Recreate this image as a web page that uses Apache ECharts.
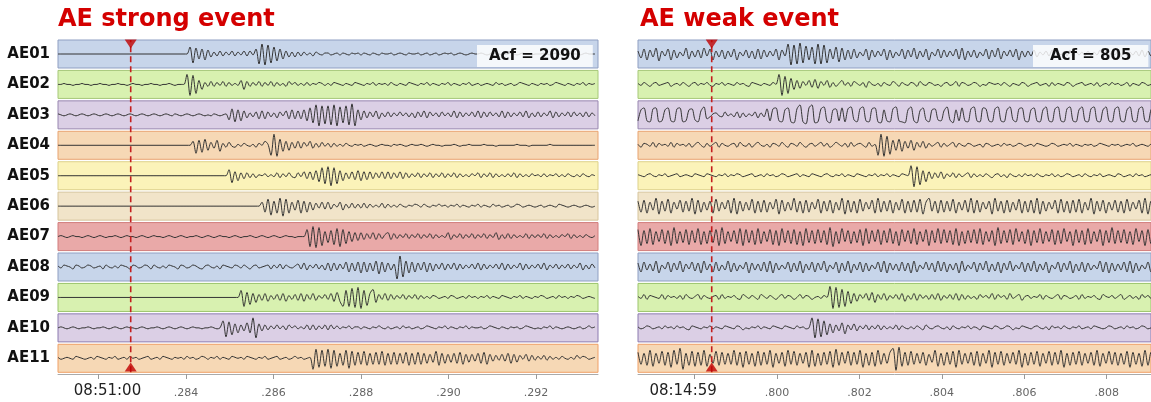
<!DOCTYPE html>
<html><head><meta charset="utf-8">
<script src="https://cdn.jsdelivr.net/npm/echarts@6/dist/echarts.min.js"></script>
<style>html,body{margin:0;padding:0;background:#fff}#c{width:1151px;height:402px}</style>
</head><body><div id="c"></div>
<script>
// ---------------- DATA ----------------
const rowNames = ['AE01','AE02','AE03','AE04','AE05','AE06','AE07','AE08','AE09','AE10','AE11'];
const panelTitles = ['AE strong event', 'AE weak event'];
const acfLabels = ['Acf = 2090', 'Acf = 805'];
// time axes (seconds within the minute)
const leftRange = [0.281074, 0.293417];
const rightRange = [0.796626, 0.809075];
const leftTicks = [0.282, 0.284, 0.286, 0.288, 0.290, 0.292];
const leftTickLabels = ['08:51:00', '.284', '.286', '.288', '.290', '.292'];
const rightTicks = [0.798, 0.800, 0.802, 0.804, 0.806, 0.808];
const rightTickLabels = ['08:14:59', '.800', '.802', '.804', '.806', '.808'];
const leftPick = 0.282736;   // red dashed marker
const rightPick = 0.798415;
// sampling of the read-off traces
const leftT0 = 0.281074, leftDt = 0.00006857;
const rightT0 = 0.796626, rightDt = 0.0000728;
// amplitude levels: 'm' = 0, each letter = 1 unit ('a' = -12, 'y' = +12)
const strongTraces = [
 "mmmmmmmmmm mmmmmmmmmm mmmmmmmmmm mmmmmmmmmm mmmmtdshrg qjokpkolpk olpkplrcwb vdtfrhpjoj okolnkomln nlmnlnmlnm nlnmlnmlnm mnlmnmlnmm nlmnlmnlmn mnlmnmlmnm mnmlmnmmlm mnmlmnmmlm mmnmlmnmlm mnmmlmnmmm",
 "mmnmmlmmnm mlmmnmmlmm nmmlmnmmlm mnmmlmmnml mmmwbvdqho kpkolpkoln lqhpkolpko lpkolnkpmo lnlolnmonl nlonmlnmlo nmlnmolnmn lomlnmlonm lnmolnmlnm olnmlnmolm nlmnmlomnl mnlmonmlnm lnmnlmonml nmlnmolnmn",
 "nmlmnmlmnm lmnmlmnmlm nmlmnmlmnm lmnmlmnmln mlmnmlmnml mlnmlmnhsf rgqjokpiqi pkojplqiri qirgtewbvd vcwbuevcxb rhqjpkqiok pkolplokoj pkqjplokpl okqjpkolpk qjpkplokqj pkolpkqjok pkolqjpkol pkplokpkol",
 "mmmmmmmmmm mmmmmmmmmm mmmmmmmmmm mmmmmmmmmm mmmmmqerfs hpjrgokplk nlomlnkomq ncxbsgqhpj qjplqjokpl okolnlomln mnlmnmlmnm mlnmnmlmnm mnmlmnmmlm mmnmlmmnmm mmnmmmlmmm mmmnmmmlmm mmmmnmmmmm mmmmmmmmmm",
 "mmmmmmmmmm mmmmmmmmmm mmmmmmmmmm mmmmmmmmmm mmmmmmmmmm mmmmmmmsfq hpjpkoknmo lnlpkolplk plqjqirgue vcuerhpjqi rhqiqjpkqj qjpkqjpkol pkolpkolpk olpkolnlom pkolpkolnl olpkolnlom nlolnmolnl omlnlomlnm",
 "mmmmmmmmmm mmmmmmmmmm mmmmmmmmmm mmmmmmmmmm mmmmmmmmmm mmmmmmmmmm mmmmmmmmqg tdrfuctfqi sfrgqipkqj qjolqiokpk okpkolnlpk olnlomlnmo nlomlnmomn lnmolnmlnm olnmlomnlm nlmonlmnml mnlmnmlonm lmnmlmnmlm",
 "mnmlmnmmlm nmlmnmlmmn mlmnmmlmnm lmnmmlmnml mnmlmmnmlm nmlmnmmlmn mlmmnmlmnm lmnmlmnmml mmmtcwbvdr gseuctfrhq iqjpkqjpko qjpkolpkol pkolpkolnl qjolpkolpk olpkolqjok pkolnlpkol olpkolnlom pkolnlomln",
 "nlonmkonlm onlmnkomln lonmkonlmo nkomlnlonm konlmonlkn omlnkonmlo nlomknolmn okolpkomln pkqjolpkoj qiqjpkrhqi rgrhqisfrh qjpaxcsgrh qjrhqipkqj pkqjpkolpk qjpkolpkqj pkolqjpkol pkqjolpkol pkolqjokpl",
 "mmmmmmmmmm mmmmmmmmmm mmmmmmmmmm mmmmmmmmmm mmmmmmmmmm mmmmmmmmmm mtdrfqhpjq iokpjqiokp jqipkqjolp kqiridtdvc wbtequhpkq jpkolpkolp kolnlonlmn lonlmnlomn lnmolnmlon mlnmolnmln monlmnlomn lnmonlmnml",
 "mnmlmnmlmm nmlmmnmlmn mlmnmmlmnm lmmnmlmnml mnmlmnmmlm mnmlmtdsfq hpjrhwcqjp kolplokpmo lnlpkpkolp kplolnmoln nlnmlnmoml nlmnlomnlm nlmonmlnmo lnmlnmolnm mnlmonmlnm lnmnlmonml mlnmolnmlm nmlmnlmomn",
 "nlmnmlonml mnlonmlnmo lmnlomnlmn olmnlonmln mnlomnlmon lnmolnmlon mnlonmlnmo lmnolmnlmo mnlmnbvdue vcuerfuctf sgtfrgsgtf rgsgrhsfrg sgrhqitfrh qirhsgqiqj rhsgqjpkqj rhqiplqjpk olpkolnlom lnlpmonlmn"
];
const weakTraces = [
 "pirgqjsfpk rgqiokshpj qiskrgpjqh pjrgokqiph rhqjpkrgqk wbvcxdugtc wcvdrhtesg qhriokrgqj pkrgqiokrh qjshpjrgok riqjpkrhsg pjqiokrhqj shpkqjrgpj pkqjolpkqj olpkqjplok pkolqjpkol qjpkolpkqj pkol",
 "nlomknolmn okmnlomkno lnmolknmol nmlomnlkon mlnmlomwbu dshqiplqjr iplqjoknql okpnlojpml nkomlpnkom lonkpmlonl mknolmpkon lmonkmlonm nlomknmlon kmnolmnkol nmlonkmnol mnlokmnlom nlmoknmlon lmno",
 "grtgfstfgr tgfstfgrsh fquiknolkp lnkpjoknlp joksgstgfr tfeswfdtwe fsugersgtf suhfsugfst fergfsugfe rugeqthfrs hgquhergtg fsugftsgfs ugfruhfstg frtgfrugfs ugfsugfrug fsugfrugfs ugfrugfsug frug",
 "nkonlpkomn lpkomnlokn pmkolnpkom lnokpmlokn pmlnkonlpm konlpmknol nplokmpnlo kplnomkpln cxbvdrhsgq jrhpkqjoln pkolnpkoml onlmnkonlm nlomnlmonl mnlonmlmon lmnmolnmln mnlmonmlnm nlmnmolmnm lnmo",
 "nmlnomlnmo lmnolmnmlo nmlonmlnmo lnmonlmnol mnlomnlmon lmnolnmlon mlnomlnmol nmlonmlnmo lnmolnmlon mwbvdrgqjp kqjolpkoln pkolnlomkn olnkomlnlo mnlomlnmol nlmonlmnlo mlnmolmnml onlmnlomnl mnlo",
 "rgsfqiuerh tfqjsgrhue sgqirfthqj sfuerhqitf rgsgqjtesh qiugrfsgqj tfrhsfqiue sgrfthqjsf ugrhsfqitf rgsgtequhr fsgrhtfqis gufsgqjreu hrfsgqitfr gsfuerhqjs ftgrfsgtfq iuerhsfqis grfthqjsfu erhs",
 "tdsfuerhtf sdvfrgtesg uerfsgtdvf rhsfudtgse ufrhtesdug sfterdugsf tgsevcrfuh sfrgtdufsh tesgufrdth sfuerhtdsg uftgseudrf sgtfuerhsd vfsgteuhrf tdsgufrhte sfuhrdtgse ufrhtdsgvf sgtfreuhsd tfsg",
 "qhrjpisgok rhqjshpkri qgsjphrioj shqiokrgqj pirhsgqjok rhqisgpjrh qjshokrgqi sgpjrhqiok rhsgqjpiri qgshokrjqh sirhpjqgsi okrhqjshpi rgqjsiokrh qishpjrgok rhqjsgpirh qjokshrgqi pjrhsgqiok rhqj",
 "nlpkonmlpk omnlokpmln pkomlnokpl nmolkpnlom kpnlomknpl onkmplonkm nlomxbwcud sgqiplqjrh pkqjolpkqi okqjplokpk qjolpkqjpk olnkpmolqk pmokqlnpjn olnmpkomln pkonlmokpl nmolkpnmol npkmolnkpm olnm",
 "nlmonlmnlo mnlomnlkon mlnmolnmlo nmlonkmlnm olnmlonmlo nmlomnlmwc vdtfqhpjrg pkqjolpkol pkolnlpkom lnlomkpmln omlnkomlnm olnmkonmlo nlmonkmlon mlnomlnkom nlomlnmolm nlonmlmonl mnlomnlmon lmno",
 "sgrfuerhtf sdugwbrfte sfueqhtfsg rgufsdtgre tfsgudrhse ugtfrhsdue rfsgtdvfsh tfsgudrfse ugrhswaxes ftgrhsfqiu erfsgtdugr hsfterhuds gtfrhsgudr fsgterhtfs gudrfsgtfr hsfuerhtgs frgtdsgreu fsgr"
];
// band colours per row
const bandFill = ['#c7d5ea','#d8f1b0','#dbcfe5','#f6d8b5','#fbf3b9','#f1e4c9','#e9a9a8','#c7d5ea','#d8f1b0','#dbcfe5','#f6d8b5'];
const bandEdge = ['#8f9fc2','#a6c879','#9886b0','#e8a370','#ddd18a','#d6c49c','#d27d7c','#8f9fc2','#9cc56c','#8c7bb0','#f0a066'];

// ---------------- BUILD ----------------
function decode(s) { return Array.from(s.replace(/\s+/g, ''), ch => ch.charCodeAt(0) - 109); }
function toSeries(s, t0, dt) { return decode(s).map((v, i) => [t0 + i * dt, v]); }

const FONT = 'DejaVu Sans';
const ROW_TOP = 40, ROW_STEP = 30.43, ROW_H = 28;
const panels = [
  {left: 58, width: 540, range: leftRange, traces: strongTraces, t0: leftT0, dt: leftDt,
   ticks: leftTicks, labels: leftTickLabels, pick: leftPick, bigPad: [0, 0, 0, 18], names: true},
  {left: 638, width: 513, range: rightRange, traces: weakTraces, t0: rightT0, dt: rightDt,
   ticks: rightTicks, labels: rightTickLabels, pick: rightPick, bigPad: [0, 23, 0, 0], names: false}
];

const grid = [], xAxis = [], yAxis = [], series = [];
panels.forEach((p, pi) => {
  p.traces.forEach((tr, k) => {
    const idx = grid.length;
    grid.push({left: p.left, width: p.width, top: ROW_TOP + ROW_STEP * k, height: ROW_H,
      show: true, backgroundColor: bandFill[k], borderColor: bandEdge[k], borderWidth: 1,
      outerBoundsMode: 'none', containLabel: false});
    xAxis.push({type: 'value', gridIndex: idx, min: p.range[0], max: p.range[1], show: false});
    yAxis.push({type: 'value', gridIndex: idx, min: -14, max: 14, show: p.names,
      axisLine: {show: false}, axisTick: {show: false}, axisLabel: {show: false}, splitLine: {show: false},
      name: p.names ? rowNames[k] : '', nameLocation: 'middle', nameRotate: 0, nameGap: 8,
      nameTextStyle: {fontFamily: FONT, fontWeight: 'bold', fontSize: 15, color: '#111', align: 'right', verticalAlign: 'middle'}});
    series.push({type: 'line', xAxisIndex: idx, yAxisIndex: idx, data: toSeries(tr, p.t0, p.dt),
      showSymbol: false, symbol: 'none', silent: true, clip: true, animation: false, smooth: 0.3,
      lineStyle: {color: '#333333', width: 1}, z: 3});
  });
  // overlay grid with time axis + pick marker
  const oi = grid.length;
  grid.push({left: p.left, width: p.width, top: ROW_TOP, height: 334, show: false,
    outerBoundsMode: 'none', containLabel: false});
  xAxis.push({type: 'value', gridIndex: oi, min: p.range[0], max: p.range[1], position: 'bottom',
    axisLine: {show: true, lineStyle: {color: '#aaaaaa', width: 1}},
    axisTick: {show: true, length: 5, lineStyle: {color: '#999'}, customValues: p.ticks},
    splitLine: {show: false},
    axisLabel: {show: true, margin: 10, customValues: p.ticks,
      formatter: v => {
        const i = p.ticks.findIndex(t => Math.abs(t - v) < 1e-6);
        if (i < 0) return '';
        return i === 0 ? '{big|' + p.labels[i] + '}' : '{small|' + p.labels[i] + '}';
      },
      rich: {
        big: {fontFamily: FONT, fontSize: 15, color: '#222', padding: p.bigPad},
        small: {fontFamily: FONT, fontSize: 11, color: '#666', padding: [4, 0, 0, 0]}
      }}});
  yAxis.push({type: 'value', gridIndex: oi, min: 0, max: 1, show: false});
  // dashed pick line
  series.push({type: 'line', xAxisIndex: oi, yAxisIndex: oi, silent: true, animation: false, z: 9,
    showSymbol: false, symbol: 'none', clip: false,
    lineStyle: {color: '#c41e1e', width: 1.6, type: [6, 4]},
    data: [[p.pick, 0.005], [p.pick, 1]]});
  // triangles at both ends
  series.push({type: 'scatter', xAxisIndex: oi, yAxisIndex: oi, silent: true, animation: false, z: 10,
    symbol: 'triangle', symbolSize: [12, 9], itemStyle: {color: '#c00000'},
    data: [
      {value: [p.pick, 1], symbolRotate: 180, symbolOffset: [0, 4]},
      {value: [p.pick, 0], symbolOffset: [0, -7]}
    ]});
});

const title = [
  {text: panelTitles[0], left: 58, top: 8, padding: 0,
   textStyle: {fontFamily: FONT, fontWeight: 'bold', fontSize: 24, color: '#d40000'}},
  {text: panelTitles[1], left: 640, top: 8, padding: 0,
   textStyle: {fontFamily: FONT, fontWeight: 'bold', fontSize: 24, color: '#d40000'}},
  {text: acfLabels[0], left: 477, top: 45, padding: [4, 12, 3, 12], backgroundColor: 'rgba(255,255,255,0.82)',
   textStyle: {fontFamily: FONT, fontWeight: 'bold', fontSize: 15, color: '#111'}},
  {text: acfLabels[1], left: 1033, top: 45, padding: [4, 17, 3, 17], backgroundColor: 'rgba(255,255,255,0.82)',
   textStyle: {fontFamily: FONT, fontWeight: 'bold', fontSize: 15, color: '#111'}}
];

const chart = echarts.init(document.getElementById('c'), null, {renderer: 'canvas'});
chart.setOption({animation: false, backgroundColor: '#ffffff', title, grid, xAxis, yAxis, series});
</script>
</body></html>
